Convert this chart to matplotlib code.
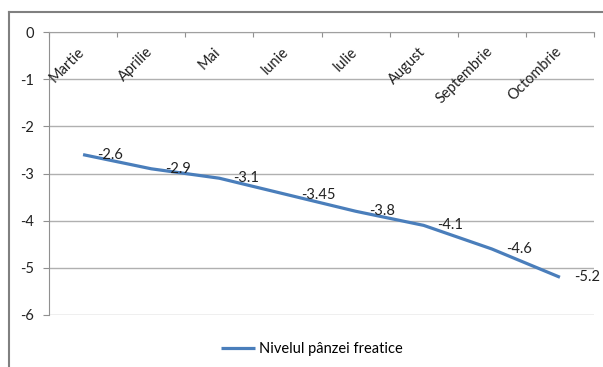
import matplotlib.pyplot as plt
from matplotlib.lines import Line2D

luni = ['Martie', 'Aprilie', 'Mai', 'Iunie', 'Iulie', 'August', 'Septembrie', 'Octombrie']
nivel = [-2.6, -2.9, -3.1, -3.45, -3.8, -4.1, -4.6, -5.2]
etichete = ['-2.6', '-2.9', '-3.1', '-3.45', '-3.8', '-4.1', '-4.6', '-5.2']
yticks = [0, -1, -2, -3, -4, -5, -6]

plt.rcParams['font.family'] = ['Lato', 'DejaVu Sans']
plt.rcParams['font.size'] = 10.5

W, H = 603, 367
fig = plt.figure(figsize=(W / 100, H / 100), dpi=100)
ax = fig.add_axes([49 / W, (H - 315) / H, (594 - 49) / W, (315 - 32) / H])

x = list(range(len(luni)))
ax.plot(x, nivel, color='#4a7ebb', lw=2.3, solid_capstyle='butt', label='Nivelul pânzei freatice')
for i, v in enumerate(nivel):
    ax.annotate(etichete[i], xy=(i, v), xytext=(10, 0), textcoords='offset points',
                ha='left', va='center', color='#222222')

ax.set_xlim(-0.5, len(luni) - 0.5)
ax.set_ylim(-6, 0)
ax.set_yticks(yticks)
ax.set_yticklabels([str(t) for t in yticks])
ax.grid(axis='y', color='#b0b0b0', lw=1)
ax.set_axisbelow(True)

# categorii scrise inclinat sub axa de sus
ax.set_xticks([i - 0.5 for i in range(len(luni) + 1)])
ax.set_xticklabels([])
ax.xaxis.set_ticks_position('top')
ax.tick_params(axis='x', direction='in', length=3.5, color='#909090')
for i, nume in enumerate(luni):
    ax.annotate(nume, xy=(i, 0), xytext=(3, -9), textcoords='offset points',
                rotation=45, ha='right', va='top', color='#222222')

ax.tick_params(axis='y', direction='out', length=4, color='#909090', pad=7, labelcolor='#222222')
for s in ['right', 'bottom']:
    ax.spines[s].set_visible(False)
ax.spines['top'].set_color('#a0a0a0')
ax.spines['left'].set_color('#909090')

# chenarul graficului
fig.add_artist(Line2D([9 / W, 1], [1 - 12 / H, 1 - 12 / H], color='#808080', lw=1.5))
fig.add_artist(Line2D([9 / W, 9 / W], [0, 1 - 12 / H], color='#808080', lw=1.5))

fig.legend(loc='center', bbox_to_anchor=(312 / W, 1 - 349 / H), frameon=False,
           handlelength=2.3, handletextpad=0.3)

fig.savefig('out.png', dpi=100)
